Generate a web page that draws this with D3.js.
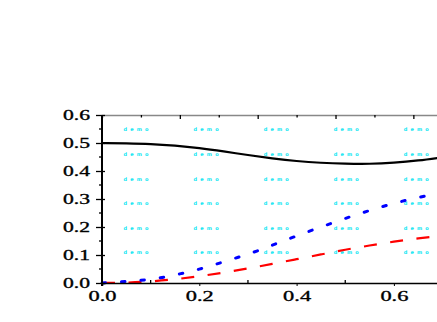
<!DOCTYPE html>
<html>
<head>
<meta charset="utf-8">
<script src="https://cdn.jsdelivr.net/npm/d3@7"></script>
<style>
	body { margin: 0; background: #fff; }
	svg { display: block; }
</style>
</head>
<body>
<div id="chart"></div>
<script>
	// values
	var solidX = [0, 0.05, 0.1, 0.15, 0.2, 0.25, 0.3, 0.35, 0.4, 0.45, 0.5, 0.55, 0.6, 0.65, 0.7];
	var solidY = [0.500, 0.499, 0.497, 0.491, 0.482, 0.470, 0.457, 0.445, 0.435, 0.429, 0.426, 0.425, 0.429, 0.437, 0.449];
	var dotX = [0, 0.04, 0.08, 0.12, 0.16, 0.2, 0.24, 0.28, 0.32, 0.36, 0.4, 0.44, 0.48, 0.52, 0.56, 0.6, 0.64, 0.68, 0.7];
	var dotY = [0, 0.004, 0.009, 0.018, 0.032, 0.049, 0.070, 0.092, 0.114, 0.142, 0.168, 0.194, 0.218, 0.243, 0.264, 0.285, 0.302, 0.316, 0.322];
	var dashX = [0, 0.05, 0.1, 0.15, 0.2, 0.25, 0.3, 0.35, 0.4, 0.45, 0.5, 0.55, 0.6, 0.65, 0.7];
	var dashY = [0, 0.001, 0.005, 0.013, 0.024, 0.037, 0.052, 0.068, 0.085, 0.102, 0.119, 0.134, 0.148, 0.160, 0.168];

	var xTicks = [0, 0.2, 0.4, 0.6];
	var xMinor = [0.1, 0.3, 0.5];
	var topTicks = [0.08, 0.16, 0.24, 0.32, 0.4, 0.48, 0.56, 0.64];
	var yTicks = [0, 0.1, 0.2, 0.3, 0.4, 0.5, 0.6];
	var yMinor = [0.05, 0.15, 0.25, 0.35, 0.45, 0.55];

	// watermark grid
	var markCols = [0.07, 0.214, 0.358, 0.502, 0.646];
	var markRows = [0.55, 0.461, 0.373, 0.286, 0.196, 0.111];

	(function() {
		var W = 437, H = 322;
		var svg = d3.select('#chart').append('svg').attr('width', W).attr('height', H);

		var x = d3.scaleLinear().domain([0, 0.7]).range([102, 102 + 0.7 * 486.5]);
		var y = d3.scaleLinear().domain([0, 0.6]).range([283, 115]);

		// watermark
		var g = svg.append('g');
		markRows.forEach(function(r) {
			markCols.forEach(function(c) {
				g.append('text')
					.attr('x', x(c)).attr('y', y(r) + 2)
					.attr('text-anchor', 'middle')
					.attr('textLength', 25).attr('lengthAdjust', 'spacing')
					.style('font-family', 'DejaVu Sans').style('font-size', '5px')
					.style('font-weight', 'bold')
					.style('fill', '#10e6f2')
					.text('demo');
			});
		});

		var line = d3.line().curve(d3.curveBasis)
			.x(function(d) { return x(d[0]); })
			.y(function(d) { return y(d[1]); });

		svg.append('path').datum(d3.zip(dashX, dashY)).attr('d', line)
			.attr('fill', 'none').attr('stroke', '#ff0000').attr('stroke-width', 2.2)
			.attr('stroke-dasharray', '13,13.5');
		svg.append('path').datum(d3.zip(dotX, dotY)).attr('d', line)
			.attr('fill', 'none').attr('stroke', '#0000ff').attr('stroke-width', 3)
			.attr('stroke-linecap', 'round')
			.attr('stroke-dasharray', '3.5,16');
		svg.append('path').datum(d3.zip(solidX, solidY)).attr('d', line)
			.attr('fill', 'none').attr('stroke', '#000').attr('stroke-width', 2.2);

		// top axis
		var topAx = svg.append('g').attr('transform', 'translate(0,' + y(0.6) + ')')
			.call(d3.axisBottom(x).tickValues(topTicks).tickSize(3).tickFormat(''));
		topAx.select('.domain').attr('stroke', '#888').attr('stroke-width', 1.5);
		topAx.selectAll('.tick line').attr('stroke-width', 1.3)
			.attr('y2', function(d) { return Math.round(d / 0.08) % 2 == 0 ? 4 : 2.5; });

		// bottom axis
		var bottom = svg.append('g').attr('transform', 'translate(0,' + y(0) + ')')
			.call(d3.axisBottom(x).tickValues(xTicks).tickSize(3).tickPadding(4).tickFormat(d3.format('.1f')));
		bottom.select('.domain').attr('stroke-width', 1.5);
		bottom.selectAll('.tick text')
			.attr('textLength', 28).attr('lengthAdjust', 'spacingAndGlyphs')
			.style('font-family', 'Liberation Serif').style('font-size', '15px')
			.style('stroke', '#000').style('stroke-width', 0.35).style('fill', '#000');
		bottom.selectAll('.minor').data(xMinor).enter().append('line')
			.attr('x1', function(d) { return x(d); }).attr('x2', function(d) { return x(d); })
			.attr('y1', 0).attr('y2', -3).attr('stroke', '#000').attr('stroke-width', 1.3);

		// left axis
		var left = svg.append('g').attr('transform', 'translate(' + x(0) + ',0)')
			.call(d3.axisLeft(y).tickValues(yTicks).tickSize(6).tickPadding(6).tickFormat(d3.format('.1f')));
		left.select('.domain').attr('stroke-width', 2).attr('d', 'M0,' + y(0.6) + 'V' + (y(0) + 3));
		left.selectAll('.tick line').attr('x2', -6).attr('x1', 3).attr('stroke-width', 1.3);
		left.selectAll('.tick text')
			.attr('textLength', 27).attr('lengthAdjust', 'spacingAndGlyphs')
			.style('font-family', 'Liberation Serif').style('font-size', '15px')
			.style('stroke', '#000').style('stroke-width', 0.35).style('fill', '#000');
		left.selectAll('.minor').data(yMinor).enter().append('line')
			.attr('y1', function(d) { return y(d); }).attr('y2', function(d) { return y(d); })
			.attr('x1', 0).attr('x2', -3).attr('stroke', '#000').attr('stroke-width', 1.3);
	})();
</script>
</body>
</html>
